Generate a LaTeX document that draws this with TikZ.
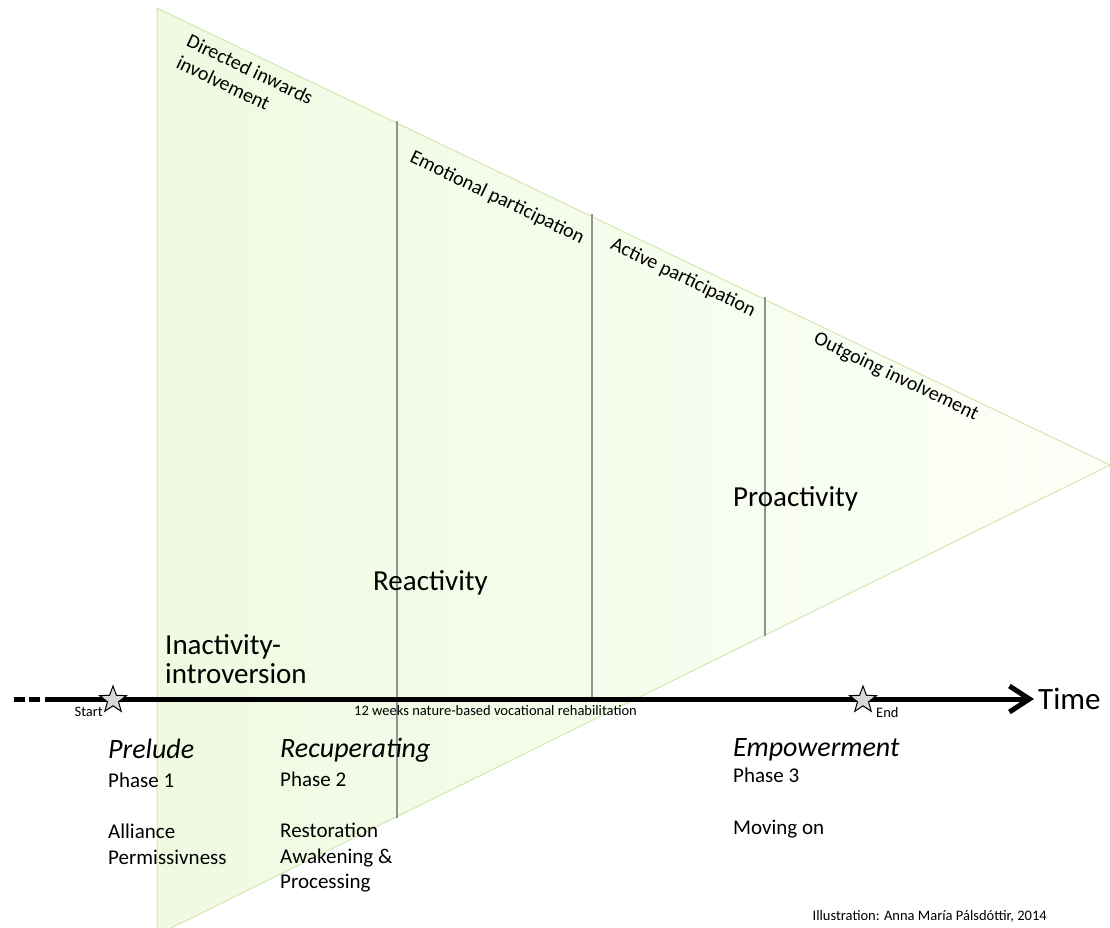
\documentclass[tikz,border=0pt]{standalone}
\usepackage{fontspec}
\setmainfont{Carlito}
\usetikzlibrary{shapes.geometric,arrows.meta}
\definecolor{triL}{RGB}{239,250,225}
\definecolor{triR}{RGB}{252,255,248}
\definecolor{triEdge}{RGB}{214,230,176}
\definecolor{divider}{RGB}{145,145,145}
\definecolor{stargray}{RGB}{215,215,215}
\tikzset{
  biglbl/.style={font=\fontsize{29}{30}\selectfont, inner sep=0, anchor=base west},
  timelbl/.style={font=\fontsize{31}{32}\selectfont, inner sep=0, anchor=base west},
  phasehead/.style={font=\fontsize{28}{30}\selectfont\itshape, anchor=base west, inner sep=0},
  phasetxt/.style={font=\fontsize{21}{24}\selectfont, anchor=base west, inner sep=0},
  edgelbl/.style={font=\fontsize{20}{24}\selectfont, rotate=-25.6, inner sep=0, align=left},
  smalllbl/.style={font=\fontsize{14.5}{16}\selectfont, inner sep=0},
  divline/.style={draw=divider, line width=1.6},
  axisline/.style={line width=5},
  starmark/.style={star, star points=5, star point ratio=2.4, minimum size=28, inner sep=0, draw=black, line width=1, fill=stargray},
}
\begin{document}
\begin{tikzpicture}[x=1pt,y=-1pt]
\useasboundingbox (0,0) rectangle (1110,928);
% triangle
\coordinate (tTL) at (157,8);
\coordinate (tTip) at (1110,465);
\coordinate (tBL) at (157,935);
\shade[left color=triL, right color=triR] (tTL) -- (tTip) -- (tBL) -- cycle;
\draw[triEdge, line width=1] (tTL) -- (tTip) -- (tBL) -- cycle;
% dividers
\coordinate (d1t) at (397,121); \coordinate (d1b) at (397,818);
\coordinate (d2t) at (592,214); \coordinate (d2b) at (592,697);
\coordinate (d3t) at (765,297); \coordinate (d3b) at (765,636);
\draw[divline] (d1t) -- (d1b);
\draw[divline] (d2t) -- (d2b);
\draw[divline] (d3t) -- (d3b);
% edge labels
\node[edgelbl] (lDir) at (245,80) {Directed inwards\\involvement};
\node[edgelbl] (lEmo) at (497,198) {Emotional participation};
\node[edgelbl] (lAct) at (683,278) {Active participation};
\node[edgelbl] (lOut) at (896,377) {Outgoing involvement};
% big labels
\node[biglbl] (lIna1) at (165,654) {Inactivity-};
\node[biglbl] (lIna2) at (165,683) {introversion};
\node[biglbl] (lRea) at (373,590) {Reactivity};
\node[biglbl] (lPro) at (733,506) {Proactivity};
% axis
\coordinate (axL) at (14,699);
\coordinate (axD) at (40,699);
\coordinate (axS) at (45,699);
\coordinate (axE) at (1034,699);
\draw[axisline, dash pattern=on 11 off 3.5] (axL) -- (axD);
\draw[axisline, -{Straight Barb[length=20pt, width=26pt]}] (axS) -- (axE);
\node[timelbl] (lTime) at (1038,709) {Time};
\node[starmark] (sStart) at (113,700) {};
\node[starmark] (sEnd) at (863,700) {};
\node[smalllbl, anchor=base east] (lStart) at (103,716) {Start};
\node[smalllbl, anchor=base west] (lEnd) at (876,717) {End};
\node[smalllbl, anchor=base west] (lWeeks) at (354,715) {12 weeks nature-based vocational rehabilitation};
% phases
\node[phasehead] (hP1) at (108,758) {Prelude};
\node[phasetxt] (p1) at (108,787) {Phase 1};
\node[phasetxt] (p1a) at (108,838) {Alliance};
\node[phasetxt] (p1b) at (108,864) {Permissivness};
\node[phasehead] (hP2) at (280,757) {Recuperating};
\node[phasetxt] (p2) at (280,786) {Phase 2};
\node[phasetxt] (p2a) at (280,837) {Restoration};
\node[phasetxt] (p2b) at (280,863) {Awakening \&};
\node[phasetxt] (p2c) at (280,888) {Processing};
\node[phasehead] (hP3) at (733,756) {Empowerment};
\node[phasetxt] (p3) at (733,782) {Phase 3};
\node[phasetxt] (p3a) at (733,834) {Moving on};
\node[smalllbl, anchor=base east] (lCred) at (1047,920) {Illustration: Anna María Pálsdóttir, 2014};
\end{tikzpicture}
\end{document}
